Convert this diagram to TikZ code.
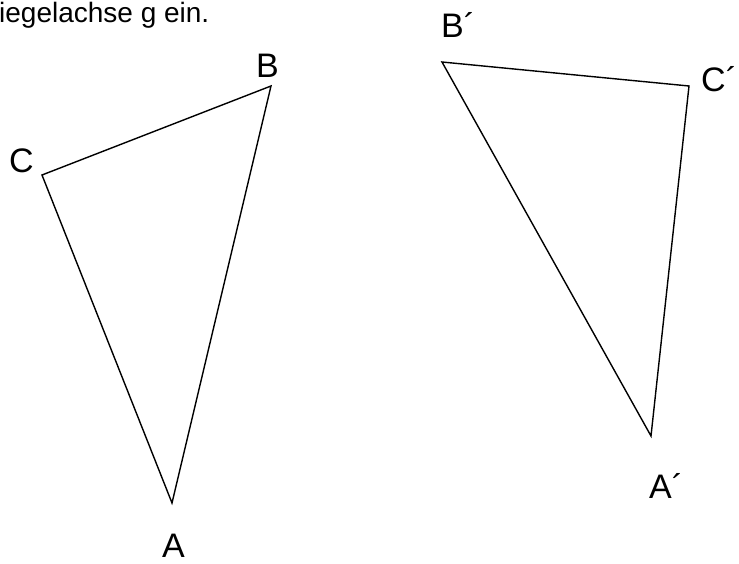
\documentclass[tikz,border=0pt]{standalone}
\usepackage{fontspec}
\setmainfont{Liberation Sans}
\begin{document}
\begin{tikzpicture}[x=1pt,y=1pt,
  edge/.style={draw=black,line width=1.4pt,line join=miter},
  lbl/.style={inner sep=0pt,anchor=base west,font=\fontsize{34}{40}\selectfont},
  txt/.style={inner sep=0pt,anchor=base west,font=\fontsize{28}{32}\selectfont}]
\useasboundingbox (0,0) rectangle (739,563);
\clip (0,0) rectangle (739,563);
% triangle ABC (y = 563 - pixel y)
\coordinate (B) at (271,477);
\coordinate (C) at (42,388);
\coordinate (A) at (172,60);
\draw[edge] (A) -- (B) -- (C) -- cycle;
% triangle A'B'C'
\coordinate (Bp) at (442,501);
\coordinate (Cp) at (689,477);
\coordinate (Ap) at (651,127);
\draw[edge] (Ap) -- (Bp) -- (Cp) -- cycle;
% labels
\node[txt] (t) at (-1,540) {iegelachse g ein.};
\node[lbl] (lB) at (256,485) {B};
\node[lbl] (lC) at (9,390) {C};
\node[lbl] (lA) at (162,6) {A};
\node[lbl] (lBp) at (441,525) {B´};
\node[lbl] (lCp) at (701,471) {C´};
\node[lbl] (lAp) at (649,65) {A´};
\end{tikzpicture}
\end{document}
